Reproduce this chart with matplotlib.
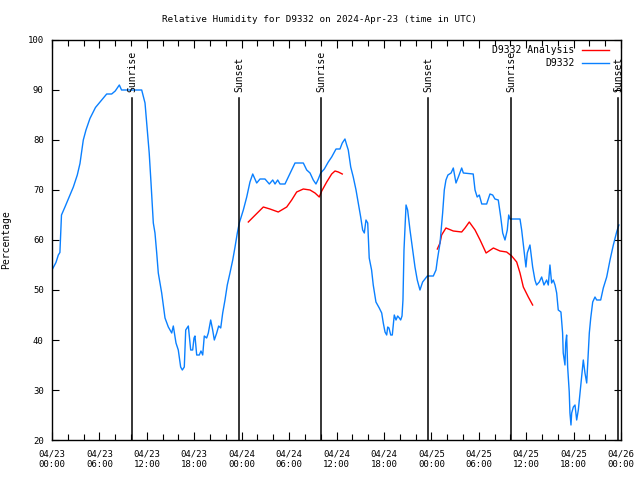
import numpy as np
import pandas as pd
import matplotlib
matplotlib.use("Agg")
import matplotlib.pyplot as plt
import matplotlib.dates as mdates

# ---- data (hours since 2024-04-23 00:00 UTC, relative humidity %) ----
obs_hours = [0.0, 0.5, 0.8, 1.0, 1.2, 1.64, 2.7, 3.2, 3.54, 3.96, 4.3, 4.8, 5.5, 6.29, 6.92, 7.55, 8.0,
             8.52, 8.8, 9.66, 11.35, 11.77, 12.06, 12.3, 12.53, 12.82, 13.03, 13.25, 13.45, 13.88, 14.3,
             14.72, 15.15, 15.35, 15.69, 15.98, 16.28, 16.49, 16.74, 16.92, 17.25, 17.55, 17.8, 17.97,
             18.09, 18.31, 18.64, 18.85, 19.07, 19.27, 19.57, 19.78, 20.08, 20.33, 20.54, 20.84, 21.09,
             21.35, 21.6, 21.89, 22.18, 22.52, 22.87, 23.16, 23.45, 23.7, 24.21, 24.64, 25.05, 25.4,
             25.9, 26.32, 26.95, 27.5, 27.93, 28.22, 28.56, 28.85, 29.48, 29.9, 30.33, 30.75, 31.8,
             32.23, 32.65, 33.06, 33.4, 33.7, 34.0, 34.46, 34.96, 35.39, 35.94, 36.44, 36.73, 37.07,
             37.29, 37.49, 37.8, 38.12, 38.47, 38.76, 39.06, 39.31, 39.52, 39.73, 39.95, 40.14, 40.44,
             40.65, 40.99, 41.41, 41.72, 41.92, 42.14, 42.35, 42.48, 42.64, 42.86, 43.06, 43.19, 43.31,
             43.53, 43.74, 43.95, 44.12, 44.29, 44.41, 44.54, 44.8, 45.0, 45.3, 45.64, 45.93, 46.22,
             46.56, 46.9, 47.2, 47.49, 48.25, 48.59, 48.76, 49.1, 49.43, 49.64, 49.85, 50.1, 50.5,
             50.78, 51.12, 51.42, 51.84, 52.05, 53.3, 53.53, 53.8, 54.07, 54.38, 55.0, 55.42, 55.76,
             56.05, 56.47, 56.78, 57.03, 57.32, 57.61, 57.79, 57.95, 59.22, 59.43, 59.72, 59.97, 60.14,
             60.48, 60.82, 61.11, 61.32, 61.66, 61.96, 62.25, 62.59, 62.8, 63.01, 63.22, 63.43, 63.65,
             63.86, 64.06, 64.4, 64.61, 64.69, 64.91, 65.0, 65.12, 65.25, 65.45, 65.54, 65.67, 65.76,
             65.97, 66.18, 66.39, 66.6, 66.81, 67.02, 67.23, 67.44, 67.66, 67.86, 67.99, 68.17, 68.42,
             68.71, 68.92, 69.43, 69.76, 70.19, 70.61, 71.03, 71.45, 71.73]
obs_rh = [54, 55.5, 57, 57.5, 65, 66.6, 70.6, 73, 75.3, 80, 82, 84.3, 86.5, 88, 89.2, 89.2, 89.8,
          91, 90, 90, 90, 87.4, 82, 77.4, 71.4, 63.4, 61.4, 57.4, 53.4, 49.4, 44.4,
          42.6, 41.4, 42.8, 39.4, 38, 34.6, 34, 34.6, 42, 42.8, 38, 38, 40.4,
          40.8, 37, 37, 37.8, 37, 40.8, 40.4, 41.4, 44, 42, 40, 41.4, 42.8,
          42.4, 45.4, 48, 51, 53.4, 56, 58.6, 61.4, 63.4, 66, 68.6, 71.6, 73.2,
          71.4, 72.2, 72.2, 71.2, 72, 71.2, 72, 71.2, 71.2, 72.6, 74, 75.4, 75.4,
          74, 73.4, 72, 71.2, 72.2, 73.4, 74.2, 75.6, 76.6, 78.2, 78.2, 79.4, 80.2,
          79, 78, 74.6, 72.6, 70, 67.4, 64.6, 62, 61.4, 64, 63.4, 56.4, 54,
          51, 47.6, 46.4, 45.4, 43.4, 41.6, 41, 42.6, 42.4, 41, 41, 43, 45,
          44, 44.8, 44.4, 44, 44.8, 48, 58, 67, 66, 62, 58, 54.6, 52,
          50, 51.6, 52.2, 52.8, 52.8, 54, 56, 59.4, 65.4, 70, 72, 73, 73.4,
          74.4, 71.4, 72.6, 74.4, 73.4, 73.2, 70, 68.6, 69, 67.2, 67.2, 69.2, 69,
          68.2, 68, 64.6, 61.4, 60, 62, 65, 64.2, 64.2, 62, 58, 54.6, 57.4,
          59, 54.6, 52, 51, 51.6, 52.6, 51, 52, 51, 55, 51.4, 52, 51,
          49.4, 46, 45.6, 41.4, 37.4, 35, 39.4, 41, 34.6, 29.6, 25.4, 23, 25.4,
          26.6, 27, 24, 26, 29.4, 32.6, 36, 33.4, 31.4, 37.4, 41.4, 44.4, 47.6,
          48.6, 48, 48, 50.4, 52.6, 56, 59, 61.6, 63]

ana1_hours = [24.84, 25.47, 26.74, 27.58, 28.63, 29.7, 30.33, 30.96, 31.8, 32.65, 33.28, 33.82,
              34.13, 34.76, 35.39, 35.81, 36.23, 36.73]
ana1_rh = [63.6, 64.6, 66.6, 66.2, 65.6, 66.6, 68, 69.6, 70.2, 70, 69.4, 68.6,
           69.8, 71.6, 73.2, 73.8, 73.6, 73.2]
ana2_hours = [48.76, 49.1, 49.3, 49.85, 50.78, 51.84, 52.26, 52.8, 53.53, 54.17, 54.93, 55.85,
              56.69, 57.53, 58.17, 58.8, 59.22, 59.64, 60.27, 60.82]
ana2_rh = [58.2, 59.4, 61, 62.4, 61.8, 61.6, 62.4, 63.6, 62, 60, 57.4, 58.4,
           57.8, 57.6, 56.8, 55.6, 53.4, 50.6, 48.6, 47]

event_hours = [10.16, 23.70, 34.04, 47.62, 58.08, 71.66]
event_labels = ["Sunrise", "Sunset", "Sunrise", "Sunset", "Sunrise", "Sunset"]

y_ticks = [20, 30, 40, 50, 60, 70, 80, 90, 100]
title = "Relative Humidity for D9332 on 2024-Apr-23 (time in UTC)"

base = pd.Timestamp("2024-04-23 00:00")
def to_time(h):
    return base + pd.to_timedelta(np.asarray(h, dtype=float), unit="h")

FONT = "DejaVu Sans Mono"
plt.rcParams["font.family"] = FONT

fig = plt.figure(figsize=(6.4, 4.8), dpi=100)
ax = fig.add_axes([52/640, 1-440/480, (621-52)/640, 400/480])

blue = "#0a80ff"
red = "#ff0000"
ax.plot(to_time(ana1_hours), ana1_rh, color=red, lw=1.0, label="D9332 Analysis")
ax.plot(to_time(ana2_hours), ana2_rh, color=red, lw=1.0)
ax.plot(to_time(obs_hours), obs_rh, color=blue, lw=1.0, label="D9332")

for h, lab in zip(event_hours, event_labels):
    t = to_time([h])[0]
    ax.plot([t, t], [20, 88.3], color="black", lw=1.1)
    ax.text(t, 89.6, lab, rotation=90, ha="center", va="bottom", fontsize=7, family=FONT)

ax.set_xlim(base, base + pd.Timedelta(hours=72))
ax.set_ylim(20, 100)
ax.set_yticks(y_ticks)
ax.xaxis.set_major_locator(mdates.HourLocator(byhour=[0, 6, 12, 18]))
ax.xaxis.set_minor_locator(mdates.HourLocator(byhour=range(0, 24, 2)))
ax.xaxis.set_major_formatter(mdates.DateFormatter("%m/%d\n%H:%M"))
ax.tick_params(axis="both", which="both", direction="in", top=True, right=True, labelsize=6.5)
ax.tick_params(axis="x", which="major", length=6, width=0.8, pad=7)
ax.tick_params(axis="x", which="minor", length=4, width=0.8)
ax.tick_params(axis="y", which="major", length=5, width=0.8, pad=6)
for s in ax.spines.values():
    s.set_linewidth(1.0)

ax.set_ylabel("Percentage", fontsize=7)
ax.yaxis.set_label_coords((11-52)/569, 0.5)
fig.text(0.5, 1-19/480, title, ha="center", va="center", fontsize=6.7)

leg = ax.legend(loc="upper right", bbox_to_anchor=(1 - 4/569, 1 + 3/400),
                frameon=False, markerfirst=False, fontsize=7,
                handlelength=2.8, borderaxespad=0.45, labelspacing=0.3, handletextpad=0.7)

fig.savefig("out.png", dpi=100)
